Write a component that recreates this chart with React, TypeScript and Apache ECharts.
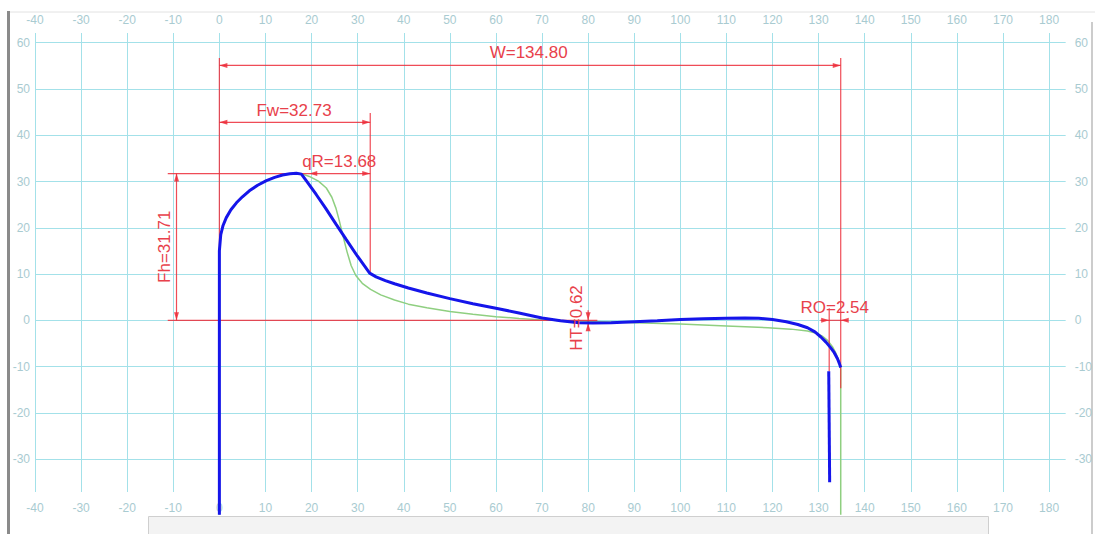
import React, { useEffect, useRef } from 'react';
import * as echarts from 'echarts';

// Measured profile (blue, thick)
const blueProfile: [number, number][] = [
  [0, -42], [0, 15], [0.3, 18.5], [0.8, 20.5], [1.5, 22.2], [2.5, 23.9], [3.7, 25.4], [5, 26.7],
  [6.5, 28], [8.3, 29.2], [10.2, 30.2], [12, 30.9], [13.7, 31.4], [15.3, 31.7], [16.7, 31.8],
  [17.8, 31.6], [19, 30], [21, 27.2], [23, 24.3], [25.3, 20.8], [27.5, 17.5], [30, 13.8],
  [32.6, 10.2], [34, 9.4], [36, 8.6], [38, 7.9], [41, 7.0], [45, 5.9], [50, 4.7], [55, 3.6], [60, 2.6],
  [65, 1.6], [70, 0.5], [74, -0.1], [78, -0.5], [81, -0.6], [85, -0.5], [90, -0.3], [95, -0.1],
  [100, 0.2], [105, 0.35], [110, 0.45], [114, 0.5], [117, 0.45], [120, 0.2], [123, -0.3],
  [125.5, -0.9], [127.6, -1.6], [129.2, -2.5], [130.5, -3.6], [131.6, -4.7], [132.6, -5.9],
  [133.4, -7], [134.1, -8.3], [134.5, -9.3], [134.8, -10.2],
];
const blueTail: [number, number][] = [[132.2, -11], [132.4, -35]];

// Reference profile (green, thin)
const greenProfile: [number, number][] = [
  [0, -42], [0, 15], [0.3, 18.5], [0.8, 20.5], [1.5, 22.2], [2.5, 23.9], [3.7, 25.4], [5, 26.7],
  [6.5, 28], [8.3, 29.2], [10.2, 30.2], [12, 30.9], [13.7, 31.4], [15.3, 31.7], [16.7, 31.8],
  [17.8, 31.7], [19.5, 31.1], [21.5, 30.1], [23.2, 28.6], [24.4, 26.6], [25.3, 24.2], [26, 21.6],
  [26.8, 18.3], [27.7, 14.8], [28.6, 11.8], [29.6, 9.7], [31, 8], [32.8, 6.7], [35, 5.5], [38, 4.4],
  [41, 3.5], [45, 2.7], [50, 1.9], [55, 1.3], [60, 0.8], [65, 0.4], [70, 0.1], [75, -0.1], [80, -0.2],
  [90, -0.5], [100, -0.8], [110, -1.2], [119, -1.6], [124, -1.9], [127.6, -2.3], [129.5, -2.8],
  [130.8, -3.4], [132, -4.4], [133, -5.7], [133.8, -7.2], [134.4, -8.8], [134.8, -10.5], [134.8, -42],
];

// Dimension lines [x1, y1, x2, y2]
const dimensionLines: [number, number, number, number][] = [
  [0, 56.7, 0, 0],
  [134.8, 56.7, 134.8, -14.7],
  [0, 55.1, 134.8, 55.1],
  [32.73, 44.8, 32.73, 10.1],
  [0, 42.8, 32.73, 42.8],
  [-11.2, 31.71, 32.73, 31.71],
  [-11.2, 0, 82, 0],
  [-9.3, 0, -9.3, 31.71],
  [80, 2.2, 80, -2.0],
  [132.3, 2.6, 132.3, -11],
  [130.4, 0, 136.3, 0],
];

// Arrow heads [tipX, tipY, dirX, dirY]
const arrowHeads: [number, number, number, number][] = [
  [0, 55.1, -1, 0], [134.8, 55.1, 1, 0],
  [0, 42.8, -1, 0], [32.73, 42.8, 1, 0],
  [-9.3, 31.71, 0, 1], [-9.3, 0, 0, -1],
  [19.5, 31.71, -1, 0], [32.73, 31.71, 1, 0],
  [80, 0, 0, -1], [80, -0.62, 0, 1],
  [132.3, 0, 1, 0], [134.8, 0, -1, 0],
];

// Dimension labels [text, x, y, rotation (deg)]
const dimensionLabels: [string, number, number, number][] = [
  ['W=134.80', 67.1, 57.8, 0],
  ['Fw=32.73', 16.2, 45.4, 0],
  ['qR=13.68', 26.0, 34.4, 0],
  ['Fh=31.71', -11.9, 15.9, 90],
  ['HT=0.62', 77.4, 0.5, 90],
  ['RO=2.54', 133.5, 2.7, 0],
];

const X_MIN = -40;
const X_MAX = 183.6;
const Y_MIN = -37.1;
const Y_MAX = 62.1;

export default function App() {
  const ref = useRef<HTMLDivElement>(null);
  useEffect(() => {
    document.body.style.margin = '0';
    const chart = echarts.init(ref.current!, null, { renderer: 'svg' });
    const gridColor = '#a3e1e9';
    const labelColor = '#a9cbd1';
    const red = 'rgba(236,45,58,0.85)';
    const redText = '#e8414b';
    const fmt = (v: number) => (Math.abs(v % 10) < 1e-6 ? String(v) : '');
    const baseX = (position: string, margin: number, split: boolean) => ({
      type: 'value',
      position,
      min: X_MIN,
      max: X_MAX,
      interval: 10,
      axisLine: { show: false, onZero: false },
      axisTick: { show: false },
      axisLabel: {
        color: labelColor, fontSize: 12, margin, fontFamily: 'Liberation Sans, Arial, sans-serif',
        showMaxLabel: false, formatter: fmt,
      },
      splitLine: { show: split, showMaxLine: false, lineStyle: { color: gridColor, width: 1 } },
    });
    const baseY = (position: string, margin: number, split: boolean) => ({
      type: 'value',
      position,
      min: Y_MIN,
      max: Y_MAX,
      splitNumber: 10,
      minInterval: 10,
      maxInterval: 10,
      axisLine: { show: false, onZero: false },
      axisTick: { show: false },
      axisLabel: {
        color: labelColor, fontSize: 12, margin, fontFamily: 'Liberation Sans, Arial, sans-serif',
        showMaxLabel: false, showMinLabel: false, formatter: fmt,
      },
      splitLine: {
        show: split, showMaxLine: false, showMinLine: false,
        lineStyle: { color: gridColor, width: 1 },
      },
    });

    chart.setOption({
      animation: false,
      backgroundColor: '#ffffff',
      grid: { left: 35, right: 26, top: 33, bottom: 42, containLabel: false },
      xAxis: [baseX('bottom', 10, true), baseX('top', 7, false)],
      yAxis: [baseY('left', 5, true), baseY('right', 9, false)],
      graphic: [
        { type: 'rect', left: 7, top: 11, shape: { width: 3, height: 523 }, style: { fill: '#8a8a8a' }, z: 0 },
        { type: 'line', shape: { x1: 10, y1: 12, x2: 1095, y2: 12 }, style: { stroke: '#e2e2e2', lineWidth: 1 }, z: 0 },
        { type: 'line', shape: { x1: 1092, y1: 22, x2: 1092, y2: 534 }, style: { stroke: '#cccccc', lineWidth: 2 }, z: 0 },
        { type: 'rect', shape: { x: 148.5, y: 516.5, width: 840, height: 20 }, style: { fill: '#f3f3f3', stroke: '#cfcfcf', lineWidth: 1 }, z: 0 },
      ],
      series: [
        {
          type: 'line', name: 'reference', data: greenProfile, showSymbol: false, clip: false, silent: true,
          lineStyle: { color: '#8fcf80', width: 1.5 }, z: 2,
        },
        {
          type: 'custom', name: 'dimLines', data: dimensionLines, clip: false, silent: true,
          encode: { x: [0, 2], y: [1, 3] }, z: 3,
          renderItem: (params: any, api: any) => {
            const p1 = api.coord([api.value(0), api.value(1)]);
            const p2 = api.coord([api.value(2), api.value(3)]);
            return {
              type: 'line',
              shape: { x1: p1[0], y1: p1[1], x2: p2[0], y2: p2[1] },
              style: { stroke: red, lineWidth: 1.2 },
            };
          },
        },
        {
          type: 'custom', name: 'arrows', data: arrowHeads, clip: false, silent: true,
          encode: { x: 0, y: 1 }, z: 3,
          renderItem: (params: any, api: any) => {
            const tx = api.value(0), ty = api.value(1), dx = api.value(2), dy = api.value(3);
            const tip = api.coord([tx, ty]);
            const back = api.coord([tx - dx, ty - dy]);
            let ux = tip[0] - back[0], uy = tip[1] - back[1];
            const len = Math.hypot(ux, uy) || 1;
            ux /= len; uy /= len;
            const L = 8, W = 2.5;
            const bx = tip[0] - ux * L, by = tip[1] - uy * L;
            const nx = -uy, ny = ux;
            return {
              type: 'polygon',
              shape: { points: [[tip[0], tip[1]], [bx + nx * W, by + ny * W], [bx - nx * W, by - ny * W]] },
              style: { fill: red },
            };
          },
        },
        {
          type: 'line', name: 'profile', data: blueProfile, showSymbol: false, clip: false, silent: true,
          lineStyle: { color: '#1515ea', width: 3 }, z: 4,
        },
        {
          type: 'line', name: 'profileTail', data: blueTail, showSymbol: false, clip: false, silent: true,
          lineStyle: { color: '#1515ea', width: 3 }, z: 4,
        },
        {
          type: 'custom', name: 'labels', data: dimensionLabels.map((d) => [d[1], d[2]]), clip: false, silent: true,
          encode: { x: 0, y: 1 }, z: 5,
          renderItem: (params: any, api: any) => {
            const d = dimensionLabels[params.dataIndex];
            const p = api.coord([d[1], d[2]]);
            return {
              type: 'text',
              x: p[0],
              y: p[1],
              rotation: (d[3] * Math.PI) / 180,
              style: {
                text: d[0], fill: redText, fontSize: 17,
                fontFamily: 'Liberation Sans, Arial, sans-serif',
                align: 'center', verticalAlign: 'middle',
              },
            };
          },
        },
      ],
    });
    return () => chart.dispose();
  }, []);
  return <div ref={ref} style={{ width: 1095, height: 534 }} />;
}
